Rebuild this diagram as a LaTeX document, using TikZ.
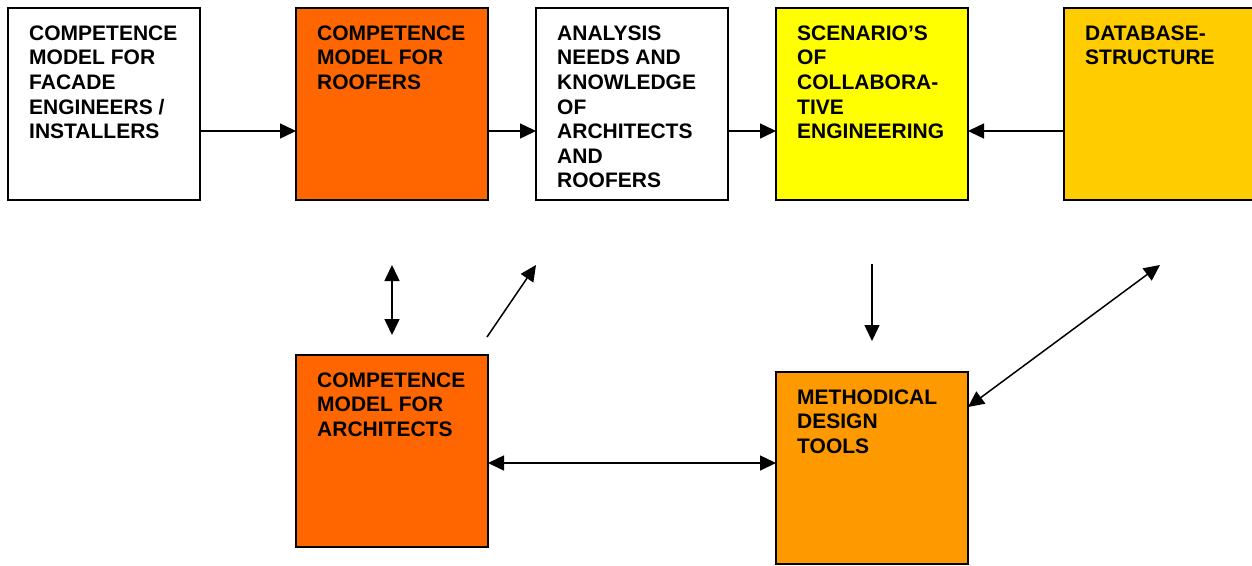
\documentclass[tikz,border=0pt]{standalone}
\usepackage{fontspec}
\setmainfont{Liberation Sans}
\usetikzlibrary{arrows.meta}
\definecolor{cOrange}{HTML}{FF6600}
\definecolor{cYellow}{HTML}{FFFF00}
\definecolor{cGold}{HTML}{FFCC00}
\definecolor{cAmber}{HTML}{FF9900}
\tikzset{
  box/.style={draw=black, line width=1.8pt, rectangle, minimum width=192pt, minimum height=192pt, inner sep=0pt, outer sep=0pt},
  lbl/.style={anchor=north west, inner sep=0pt, align=left, font=\fontsize{21}{24.6}\selectfont\bfseries},
  conn/.style={line width=1.5pt, -{Triangle[length=16pt,width=15pt]}},
  dconn/.style={line width=1.5pt, {Triangle[length=16pt,width=15pt]}-{Triangle[length=16pt,width=15pt]}}
}
\begin{document}
\begin{tikzpicture}[x=1pt,y=-1pt]
\useasboundingbox (0,0) rectangle (1252,565);
\node[box, fill=white] (b1) at (104,104) {};
\node[box, fill=cOrange] (b2) at (392,104) {};
\node[box, fill=white] (b3) at (632,104) {};
\node[box, fill=cYellow] (b4) at (872,104) {};
\node[box, fill=cGold] (b5) at (1160,104) {};
\node[box, fill=cOrange] (b6) at (392,451) {};
\node[box, fill=cAmber] (b7) at (872,468) {};

\node[lbl] (t1) at ([shift={(21,17.5)}]b1.north west) {COMPETENCE\\MODEL FOR\\FACADE\\ENGINEERS /\\INSTALLERS};
\node[lbl] (t2) at ([shift={(21,17.5)}]b2.north west) {COMPETENCE\\MODEL FOR\\ROOFERS};
\node[lbl] (t3) at ([shift={(21,17.5)}]b3.north west) {ANALYSIS\\NEEDS AND\\KNOWLEDGE\\OF\\ARCHITECTS\\AND\\ROOFERS};
\node[lbl] (t4) at ([shift={(21,17.5)}]b4.north west) {SCENARIO’S\\OF\\COLLABORA-\\TIVE\\ENGINEERING};
\node[lbl] (t5) at ([shift={(21,17.5)}]b5.north west) {DATABASE-\\STRUCTURE};
\node[lbl] (t6) at ([shift={(21,17.5)}]b6.north west) {COMPETENCE\\MODEL FOR\\ARCHITECTS};
\node[lbl] (t7) at ([shift={(21,17.5)}]b7.north west) {METHODICAL\\DESIGN\\TOOLS};

\coordinate (v1a) at (392,265);
\coordinate (v1b) at (392,335);
\coordinate (d1a) at (487,337);
\coordinate (d1b) at (536,265);
\coordinate (v2a) at (872,264);
\coordinate (v2b) at (872,341);
\coordinate (d2b) at (1160,265);

\draw[conn] ([yshift=-27pt]b1.east) -- ([yshift=-27pt]b2.west);
\draw[conn] ([yshift=-27pt]b2.east) -- ([yshift=-27pt]b3.west);
\draw[conn] ([yshift=-27pt]b3.east) -- ([yshift=-27pt]b4.west);
\draw[conn] ([yshift=-27pt]b5.west) -- ([yshift=-27pt]b4.east);
\draw[dconn] (v1a) -- (v1b);
\draw[conn] (d1a) -- (d1b);
\draw[conn] (v2a) -- (v2b);
\draw[dconn] ([yshift=61pt]b7.east) -- (d2b);
\draw[dconn] ([yshift=-12pt]b6.east) -- ([yshift=5pt]b7.west);
\end{tikzpicture}
\end{document}
